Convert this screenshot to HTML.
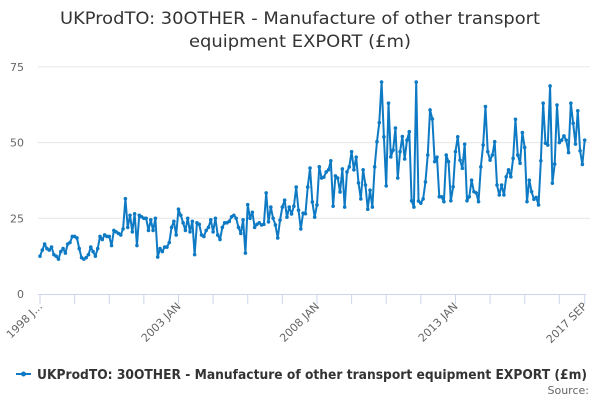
<!DOCTYPE html>
<html><head><meta charset="utf-8">
<style>
body{margin:0;background:#fff;}
svg{display:block;font-family:"DejaVu Sans","Liberation Sans",sans-serif;}
</style></head>
<body>
<svg id="chart" width="600" height="400" viewBox="0 0 600 400">
<rect width="600" height="400" fill="#fff"/>
<text x="300" y="24" text-anchor="middle" font-size="17" fill="#333" textLength="480" lengthAdjust="spacingAndGlyphs">UKProdTO: 30OTHER - Manufacture of other transport</text>
<text x="300" y="47" text-anchor="middle" font-size="17" fill="#333" textLength="222" lengthAdjust="spacingAndGlyphs">equipment EXPORT (£m)</text>
<g id="grid"></g>
<g id="xaxis"></g>
<g id="series"></g>
<g>
<line x1="16" y1="374" x2="31" y2="374" stroke="#0e7ac4" stroke-width="2"/>
<circle cx="23.5" cy="374" r="2.5" fill="#0e7ac4"/>
<text x="37" y="379" font-size="13" font-weight="bold" fill="#333" textLength="550" lengthAdjust="spacingAndGlyphs">UKProdTO: 30OTHER - Manufacture of other transport equipment EXPORT (£m)</text>
</g>
<text x="589" y="394" text-anchor="end" font-size="11" fill="#666">Source:</text>
</svg>
<script>
const startYear = 1998;
const yTicks = [0, 25, 50, 75];
const xTickLabels = ["1998 J...", "2003 JAN", "2008 JAN", "2013 JAN", "2017 SEP"];
const xTickLabelIdx = [0, 60, 120, 180, 236];
const values = [
12.5,14.5,16.5,15,14.5,15.5,13,12.5,11.5,14,15,13.5,
16.5,17,19,19,18.5,15,12,11.5,12,13,15.5,14,
12.5,15,19,18,19.5,19,19,16,21,20.5,20,19.5,
21.5,31.5,22,26,20.5,26.5,16,26,25.5,25,25,21,
24.5,21,25,12.2,15,14,15.5,15.5,17,22,24,19.5,
28,26,23.5,21,25,20.5,24,13,23.5,23,19.5,19,
21,22,24.5,20.5,25,19.5,18,22,23.5,23.5,24,25.5,
26,25,22,20,24.5,13.5,29.5,25,27,22,23,23.5,
22.8,23,33.4,23.8,28.7,25,22.8,18.5,24.4,28.7,31,25.4,
28.7,26.4,29,35.3,27.7,21.5,26.7,26.5,35.3,41.6,30.4,25.4,
29.4,42,38.3,38.6,40.3,41,44,29,39,38.3,33.7,41.3,
28.7,40.3,42,47,41,45.2,36.7,31.4,41,36,28,34.3,
28.7,42,
50.3,56.6,70,51.9,35.7,63,45.3,47.5,54.8,38.3,47,52,44.6,50.8,53.6,30.8,28.7,70,30.7,30,31.4,37,45.9,60.8,57.8,43.7,45.2,32.1,32.1,30.5,45.9,43.7,30.8,35.4,47,51.9,44.2,41.5,49.5,30.8,32.1,37.6,33.8,33.4,30.5,42,49.2,61.9,
47,44.2,45.9,50.3,36,32.7,36,32.7,38.7,41,38.7,44.8,57.7,45.9,43.2,53.3,48.4,30.5,37.6,33.8,31.3,31.9,29.4,44,63,49.8,49.2,68.7,36.6,42.9,62.4,50,50.8,52.2,50.8,46.7,63,56.4,49.5,60.5,47.3,42.8,50.8
];
const months = ["JAN","FEB","MAR","APR","MAY","JUN","JUL","AUG","SEP","OCT","NOV","DEC"];
const categories = values.map((v,i)=> (startYear+Math.floor(i/12))+" "+months[i%12]);

const NS="http://www.w3.org/2000/svg";
const X0=40, X1=584.7, Y0=294, YK=3.028;
const n=values.length;
const xs=i=>X0+i*(X1-X0)/(n-1);
const ys=v=>Y0-v*YK;
function mk(t,a,p){const e=document.createElementNS(NS,t);for(const k in a)e.setAttribute(k,a[k]);p.appendChild(e);return e;}

const grid=document.getElementById('grid');
yTicks.forEach(t=>{
  if(t>0){
    const l=mk('line',{x1:38,x2:590,y1:ys(t),y2:ys(t),stroke:'#e6e6e6','stroke-width':1},grid);
    
    
  }
  const tx=mk('text',{x:24,y:ys(t)+4,'text-anchor':'end','font-size':11,fill:'#666'},grid);
  tx.textContent=t;
  
  
});

const xa=document.getElementById('xaxis');
const ax=mk('line',{x1:38,x2:586,y1:Y0+0.5,y2:Y0+0.5,stroke:'#ccd6eb','stroke-width':1},xa);


for(let i=0;i<n;i+=15){
  const t=mk('line',{x1:xs(i),x2:xs(i),y1:Y0,y2:Y0+10,stroke:'#ccd6eb','stroke-width':1},xa);
  
  
}
const lt=mk('line',{x1:xs(n-1),x2:xs(n-1),y1:Y0,y2:Y0+10,stroke:'#ccd6eb','stroke-width':1},xa);


xTickLabels.forEach((lab,k)=>{
  const x=xs(xTickLabelIdx[k])+3, y=Y0+13;
  const tx=mk('text',{x:x,y:y,'text-anchor':'end','font-size':11,fill:'#666',transform:`rotate(-45 ${x} ${y})`},xa);
  tx.textContent=lab;
  
  
});

const s=document.getElementById('series');
const d=values.map((v,i)=>(i?'L':'M')+xs(i).toFixed(2)+' '+ys(v).toFixed(2)).join(' ');
const path=mk('path',{d:d,fill:'none',stroke:'#0e7ac4','stroke-width':2,'stroke-linejoin':'round'},s);


values.forEach((v,i)=>{
  const c=mk('circle',{cx:xs(i),cy:ys(v),r:1.8,fill:'#0e7ac4'},s);
  
  
  const tt=document.createElementNS(NS,'title');tt.textContent=categories[i]+": "+v;c.appendChild(tt);
});
</script>
</body></html>
